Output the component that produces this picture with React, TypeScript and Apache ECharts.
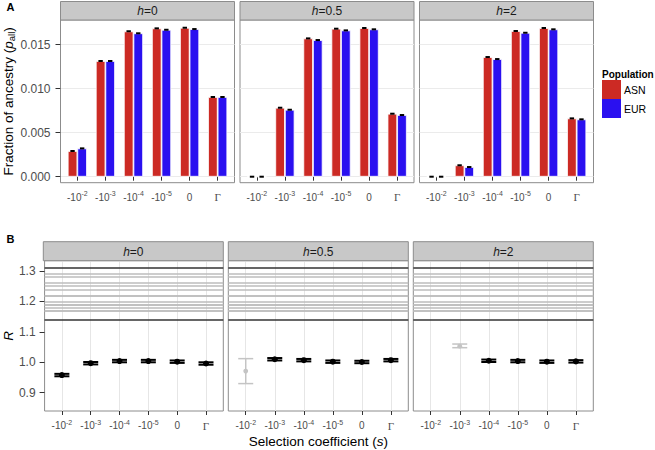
import React, { useEffect, useRef } from 'react';
import * as echarts from 'echarts';

// ---------- data ----------
const catBase = ['-10', '-10', '-10', '-10', '0', 'Γ'];
const catExp = ['-2', '-3', '-4', '-5', '', ''];
const catPos = [1, 2, 3, 4, 5, 6];
const hValues = ['0', '0.5', '2'];
const populations = ['ASN', 'EUR'];

const asnH0 = [0.00292, 0.01315, 0.01652, 0.01686, 0.01693, 0.00906];
const eurH0 = [0.00322, 0.01315, 0.0163, 0.0167, 0.01678, 0.00906];
const asnH05 = [0, 0.00784, 0.01572, 0.01682, 0.0169, 0.00716];
const eurH05 = [0, 0.00761, 0.01553, 0.01663, 0.01675, 0.00701];
const asnH2 = [0, 0.0013, 0.0136, 0.01656, 0.0169, 0.00663];
const eurH2 = [0, 0.0011, 0.01337, 0.01636, 0.01675, 0.00652];

const rH0 = [0.958, 0.997, 1.004, 1.004, 1.002, 0.996];
const rLoH0 = [0.954, 0.993, 1.0, 1.0, 0.998, 0.992];
const rHiH0 = [0.962, 1.001, 1.008, 1.008, 1.006, 1.0];
const rH05 = [0.971, 1.01, 1.007, 1.002, 1.001, 1.007];
const rLoH05 = [0.93, 1.006, 1.003, 0.998, 0.997, 1.003];
const rHiH05 = [1.012, 1.014, 1.011, 1.006, 1.005, 1.011];
const rH2 = [null, 1.053, 1.005, 1.004, 1.002, 1.003];
const rLoH2 = [null, 1.048, 1.001, 1.0, 0.998, 0.999];
const rHiH2 = [null, 1.06, 1.009, 1.008, 1.006, 1.007];
const fadedH0 = [0, 0, 0, 0, 0, 0];
const fadedH05 = [1, 0, 0, 0, 0, 0];
const fadedH2 = [0, 1, 0, 0, 0, 0];

const refDark = [1.311, 1.144];
const refGray = [1.292, 1.282, 1.263, 1.248, 1.24, 1.224, 1.215, 1.199, 1.194, 1.19, 1.182, 1.174, 1.165];

const yTicksA = [0, 0.005, 0.01, 0.015];
const yTicksB = [0.9, 1.0, 1.1, 1.2, 1.3];

// ---------- style ----------
const FONT = '"Liberation Sans", Arial, Helvetica, sans-serif';
const SERIF = '"Liberation Serif", "DejaVu Serif", serif';
const RED = '#cc2a24';
const BLUE = '#2a10f0';
const LABEL = '#4d4d4d';
const BORDER = '#8c8c8c';
const TOP_LEFTS = [60.5, 240, 419.5];
const TOP_W = 174;
const TOP_Y = 20;
const TOP_H = 162.7;
const BOT_LEFTS = [43.3, 228.3, 413.3];
const BOT_W = 180;
const BOT_Y = 260.7;
const BOT_H = 150.3;
const HALF_DODGE = 4.8;

const xRich = {
  b: { fontSize: 10, lineHeight: 14, color: LABEL, fontFamily: FONT },
  s: { fontSize: 7, padding: [0, 0, 7, 0], color: LABEL, fontFamily: FONT },
  g: { fontSize: 11, lineHeight: 14, color: LABEL, fontFamily: SERIF },
};

const xFormatter = (v: number) => {
  const i = Math.round(v) - 1;
  const base = catBase[i];
  const e = catExp[i];
  if (base === 'Γ') return '{g|Γ}';
  return e ? `{b|${base}}{s|${e}}` : `{b|${base}}`;
};

function buildOption() {
  const asn = [asnH0, asnH05, asnH2];
  const eur = [eurH0, eurH05, eurH2];
  const rMean = [rH0, rH05, rH2];
  const rLo = [rLoH0, rLoH05, rLoH2];
  const rHi = [rHiH0, rHiH05, rHiH2];
  const faded = [fadedH0, fadedH05, fadedH2];

  const grid: any[] = [];
  const xAxis: any[] = [];
  const yAxis: any[] = [];
  const series: any[] = [];
  const graphic: any[] = [];

  for (let p = 0; p < 3; p++) {
    grid.push({
      left: TOP_LEFTS[p], top: TOP_Y, width: TOP_W, height: TOP_H,
      show: true, borderColor: BORDER, borderWidth: 1, backgroundColor: '#fff',
    });
  }
  for (let p = 0; p < 3; p++) {
    grid.push({
      left: BOT_LEFTS[p], top: BOT_Y, width: BOT_W, height: BOT_H,
      show: true, borderColor: BORDER, borderWidth: 1, backgroundColor: '#fff',
    });
  }

  for (let g = 0; g < 6; g++) {
    const isBottom = g >= 3;
    xAxis.push({
      type: 'value', gridIndex: g, min: 0.4, max: 6.6,
      axisLine: { show: false },
      axisTick: { show: true, length: 4, customValues: catPos, lineStyle: { color: '#333', width: 1 } },
      axisLabel: { customValues: catPos, formatter: xFormatter, rich: xRich, margin: 7.5, color: LABEL },
      splitLine: { show: isBottom, lineStyle: { color: '#e6e6e6', width: 1 } },
      ...(g === 4
        ? {
            name: 'Selection coefficient ({i|s})',
            nameLocation: 'middle',
            nameGap: 23,
            nameTextStyle: {
              fontSize: 13.5, fontFamily: FONT, color: '#000',
              rich: { i: { fontStyle: 'italic', fontSize: 13.5, fontFamily: FONT, color: '#000' } },
            },
          }
        : {}),
    });
    const first = g === 0 || g === 3;
    yAxis.push({
      type: 'value', gridIndex: g,
      min: isBottom ? 0.8399 : -0.00068,
      max: isBottom ? 1.3339 : 0.01781,
      axisLine: { show: false },
      axisTick: { show: first, length: 5, customValues: isBottom ? yTicksB : yTicksA, lineStyle: { color: '#333', width: 1 } },
      axisLabel: {
        show: first,
        customValues: isBottom ? yTicksB : yTicksA,
        formatter: (v: number) => (isBottom ? v.toFixed(1) : v.toFixed(3)),
        fontSize: 12, fontFamily: FONT, color: LABEL, margin: isBottom ? 9 : 10,
      },
      splitLine: { show: !isBottom, lineStyle: { color: '#ebebeb', width: 1 } },
      ...(g === 0
        ? {
            name: 'Fraction of ancestry ({p|p}{sub|all})',
            nameLocation: 'middle', nameRotate: 90, nameGap: 43,
            nameTextStyle: {
              fontSize: 13.5, fontFamily: FONT, color: '#000',
              rich: {
                p: { fontStyle: 'italic', fontSize: 13.5, fontFamily: FONT, color: '#000' },
                sub: { fontSize: 9.5, fontFamily: FONT, color: '#000', padding: [7, 0, 0, 0] },
              },
            },
          }
        : {}),
      ...(g === 3
        ? {
            name: 'R', nameLocation: 'middle', nameRotate: 90, nameGap: 26,
            nameTextStyle: { fontSize: 13.5, fontFamily: FONT, color: '#000', fontStyle: 'italic' },
          }
        : {}),
    });
  }

  // top bars
  for (let p = 0; p < 3; p++) {
    series.push({
      type: 'bar', name: populations[0], xAxisIndex: p, yAxisIndex: p,
      data: catPos.map((x, i) => [x, asn[p][i]]),
      barWidth: 9.6, barGap: '0%',
      itemStyle: { color: RED, borderColor: '#fff', borderWidth: 0.8 },
    });
    series.push({
      type: 'bar', name: populations[1], xAxisIndex: p, yAxisIndex: p,
      data: catPos.map((x, i) => [x, eur[p][i]]),
      barWidth: 9.6, barGap: '0%',
      itemStyle: { color: BLUE, borderColor: '#fff', borderWidth: 0.8 },
    });
    const errData: any[] = [];
    catPos.forEach((x, i) => {
      errData.push([x, asn[p][i], -1]);
      errData.push([x, eur[p][i], 1]);
    });
    series.push({
      type: 'custom', xAxisIndex: p, yAxisIndex: p, coordinateSystem: 'cartesian2d',
      encode: { x: 0, y: 1 }, z: 5,
      data: errData,
      renderItem: (_params: any, api: any) => {
        const c = api.coord([api.value(0), api.value(1)]);
        const cx = c[0] + api.value(2) * HALF_DODGE;
        return {
          type: 'rect',
          shape: { x: cx - 2.2, y: c[1] - 1, width: 4.4, height: 2 },
          style: { fill: '#000' },
        };
      },
    });
  }

  // bottom panels
  for (let p = 0; p < 3; p++) {
    const g = p + 3;
    series.push({
      type: 'line', xAxisIndex: g, yAxisIndex: g, data: [],
      markLine: {
        silent: true, symbol: 'none', label: { show: false }, animation: false,
        data: [
          ...refGray.map((v) => ({ yAxis: v, lineStyle: { color: '#bdbdbd', width: 1.5, type: 'solid' } })),
          ...refDark.map((v) => ({ yAxis: v, lineStyle: { color: '#333', width: 1.6, type: 'solid' } })),
        ],
      },
    });
    const data: any[] = [];
    catPos.forEach((x, i) => {
      if (rMean[p][i] == null) return;
      data.push([x, rMean[p][i], rLo[p][i], rHi[p][i], faded[p][i]]);
    });
    series.push({
      type: 'custom', xAxisIndex: g, yAxisIndex: g, coordinateSystem: 'cartesian2d',
      encode: { x: 0, y: 1 }, z: 5,
      data,
      renderItem: (_params: any, api: any) => {
        const x = api.value(0);
        const m = api.coord([x, api.value(1)]);
        const lo = api.coord([x, api.value(2)]);
        const hi = api.coord([x, api.value(3)]);
        const isFaded = api.value(4) === 1;
        const col = isFaded ? '#c4c4c4' : '#000';
        const lw = isFaded ? 1.5 : 2;
        const hw = 7.5;
        return {
          type: 'group',
          children: [
            { type: 'line', shape: { x1: m[0], y1: hi[1], x2: m[0], y2: lo[1] }, style: { stroke: col, lineWidth: lw } },
            { type: 'line', shape: { x1: m[0] - hw, y1: hi[1], x2: m[0] + hw, y2: hi[1] }, style: { stroke: col, lineWidth: lw } },
            { type: 'line', shape: { x1: m[0] - hw, y1: lo[1], x2: m[0] + hw, y2: lo[1] }, style: { stroke: col, lineWidth: lw } },
            { type: 'circle', shape: { cx: m[0], cy: m[1], r: isFaded ? 2.4 : 3 }, style: { fill: col } },
          ],
        };
      },
    });
  }

  // strips
  const stripRich = { i: { fontStyle: 'italic', fontSize: 12, fontFamily: FONT, fill: '#1a1a1a', color: '#1a1a1a' } };
  for (let p = 0; p < 3; p++) {
    graphic.push({
      type: 'rect', shape: { x: TOP_LEFTS[p], y: 1.5, width: TOP_W, height: 18.5 },
      style: { fill: '#c8c8c8', stroke: BORDER, lineWidth: 1 }, z: 10,
    });
    graphic.push({
      type: 'text', x: TOP_LEFTS[p] + TOP_W / 2, y: 11, z: 11,
      style: {
        text: `{i|h}=${hValues[p]}`, rich: stripRich, font: `12px ${FONT}`, fill: '#1a1a1a',
        align: 'center', verticalAlign: 'middle',
      },
    });
    graphic.push({
      type: 'rect', shape: { x: BOT_LEFTS[p], y: 241.7, width: BOT_W, height: 19 },
      style: { fill: '#c8c8c8', stroke: BORDER, lineWidth: 1 }, z: 10,
    });
    graphic.push({
      type: 'text', x: BOT_LEFTS[p] + BOT_W / 2, y: 251.5, z: 11,
      style: {
        text: `{i|h}=${hValues[p]}`, rich: stripRich, font: `12px ${FONT}`, fill: '#1a1a1a',
        align: 'center', verticalAlign: 'middle',
      },
    });
  }
  graphic.push({
    type: 'text', x: 6.5, y: 7, z: 11,
    style: { text: 'A', font: `bold 11px ${FONT}`, fill: '#000', verticalAlign: 'middle' },
  });
  graphic.push({
    type: 'text', x: 6.5, y: 238.5, z: 11,
    style: { text: 'B', font: `bold 11px ${FONT}`, fill: '#000', verticalAlign: 'middle' },
  });
  graphic.push({
    type: 'text', x: 602, y: 74, z: 11,
    style: { text: 'Population', font: `bold 10px ${FONT}`, fill: '#000', verticalAlign: 'middle' },
  });

  return {
    animation: false,
    backgroundColor: '#fff',
    textStyle: { fontFamily: FONT },
    grid, xAxis, yAxis, series, graphic,
    legend: {
      data: populations, orient: 'vertical', left: 602, top: 80,
      itemWidth: 19, itemHeight: 19, itemGap: 0, icon: 'rect', selectedMode: false,
      padding: 0,
      itemStyle: { borderWidth: 0 },
      textStyle: { fontSize: 10.5, fontFamily: FONT, color: '#000', padding: [0, 0, 0, -2] },
    },
  };
}

export default function App() {
  const ref = useRef<HTMLDivElement>(null);
  useEffect(() => {
    document.body.style.margin = '0';
    if (!ref.current) return;
    const chart = echarts.init(ref.current, undefined, { renderer: 'svg' });
    chart.setOption(buildOption() as any);
    return () => chart.dispose();
  }, []);
  return <div ref={ref} style={{ width: 655, height: 450 }} />;
}
